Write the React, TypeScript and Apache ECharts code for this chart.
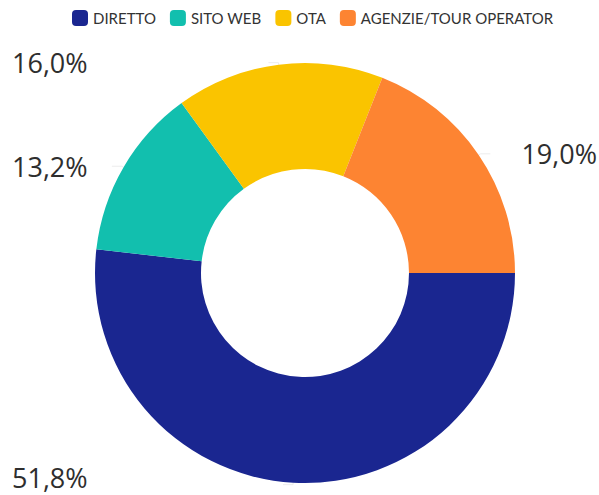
import React, { useEffect, useRef } from "react";
import * as echarts from "echarts";

const categories = ["DIRETTO", "SITO WEB", "OTA", "AGENZIE/TOUR OPERATOR"];
const values = [51.8, 13.2, 16.0, 19.0];
const colors = ["#1a2690", "#12bfae", "#fac400", "#fd8432"];

export default function App() {
  const ref = useRef<HTMLDivElement>(null);
  useEffect(() => {
    if (!ref.current) return;
    const chart = echarts.init(ref.current, null, { renderer: "svg" });
    chart.setOption({
      animation: false,
      backgroundColor: "#ffffff",
      color: colors,
      legend: {
        top: 5,
        left: 67,
        icon: "roundRect",
        itemWidth: 16,
        itemHeight: 16,
        itemGap: 14,
        textStyle: { fontSize: 15, color: "#333333", fontFamily: "Lato" },
        data: categories,
      },
      series: [
        {
          type: "pie",
          left: 12,
          right: 2,
          top: 0,
          bottom: 0,
          center: [293, 273],
          radius: [104, 210],
          startAngle: 0,
          clockwise: true,
          avoidLabelOverlap: false,
          label: {
            show: true,
            alignTo: "edge",
            edgeDistance: 0,
            fontSize: 27,
            fontFamily: "Open Sans",
            color: "#2e2e2e",
            formatter: (p: any) => p.value.toFixed(1).replace(".", ",") + "%",
          },
          labelLine: {
            show: true,
            length: 2,
            length2: 10,
            lineStyle: { color: "#ececec", width: 1 },
          },
          labelLayout: (p: any) => (p.dataIndex === 0 ? { dy: -7 } : {}),
          emphasis: { disabled: true },
          data: categories.map((c, i) => ({ name: c, value: values[i] })),
        },
      ],
    });
    return () => chart.dispose();
  }, []);
  return (
    <div
      ref={ref}
      style={{ position: "fixed", left: 0, top: 0, width: 599, height: 495 }}
    />
  );
}
